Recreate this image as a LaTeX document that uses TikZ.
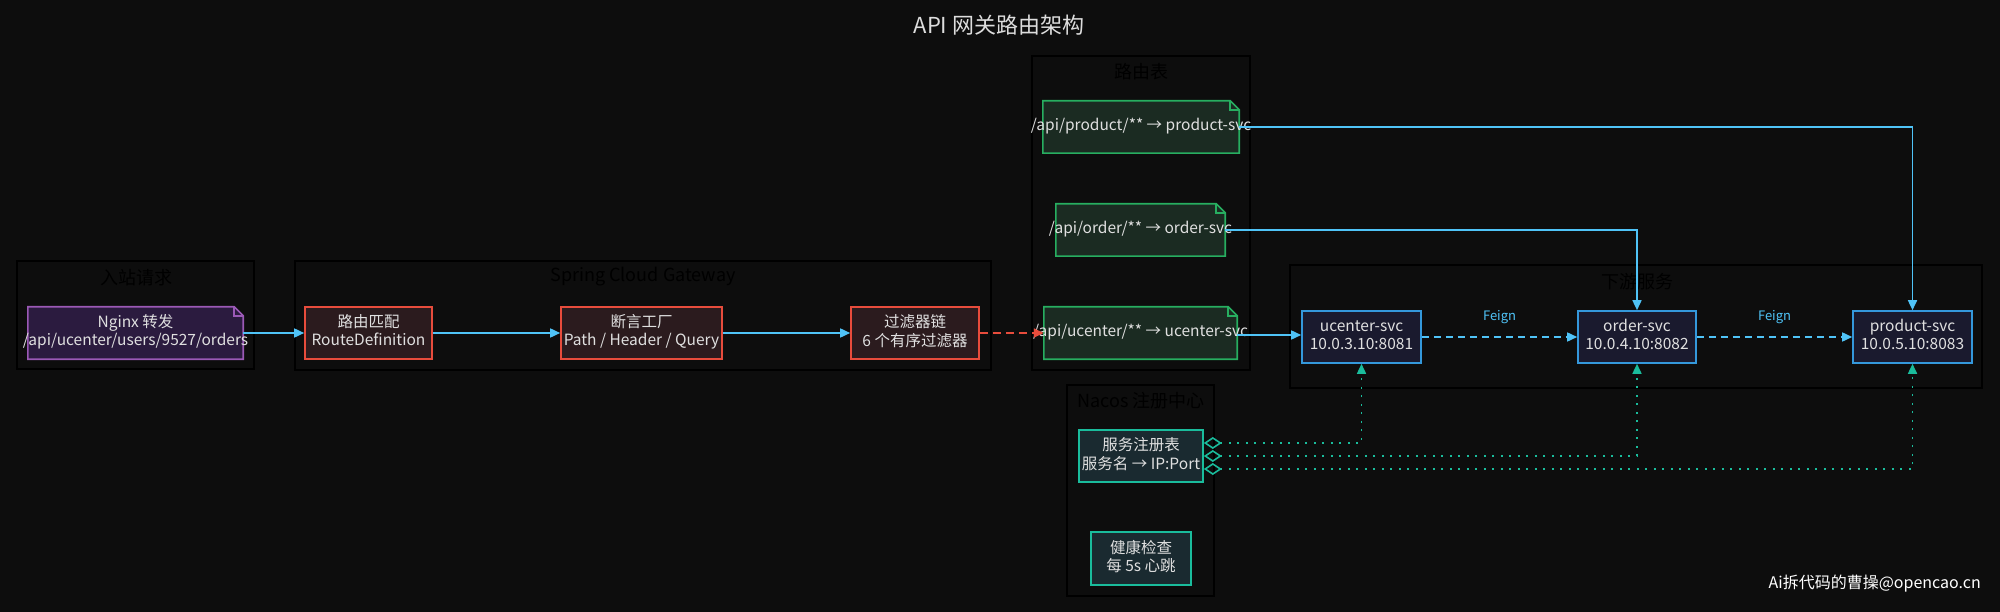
\documentclass[tikz,border=0pt]{standalone}
\usepackage{fontspec}
\setmainfont{Noto Sans CJK SC}
\setsansfont{Noto Sans CJK SC}
\usetikzlibrary{arrows.meta}
\definecolor{bg}{HTML}{0D0D0D}
\definecolor{txt}{HTML}{E0E0E0}
\definecolor{titlec}{HTML}{DDDDDD}
\definecolor{inline}{HTML}{9B59B6}
\definecolor{infill}{HTML}{2B1B3F}
\definecolor{gwline}{HTML}{E74C3C}
\definecolor{gwfill}{HTML}{2B1B1E}
\definecolor{rtline}{HTML}{27AE60}
\definecolor{rtfill}{HTML}{1B2B22}
\definecolor{svline}{HTML}{3498DB}
\definecolor{svfill}{HTML}{1A1A2E}
\definecolor{naline}{HTML}{1ABC9C}
\definecolor{nafill}{HTML}{1A2A30}
\definecolor{flowc}{HTML}{4FC3F7}
\newcommand\ctext[1]{\makebox[0pt]{\begin{tabular}{@{}c@{}}#1\end{tabular}}}
\newcommand\noteshape[3]{%
  \filldraw[line width=1.6pt, draw=#2, fill=#3, line join=miter]
    (#1.south west) -- (#1.north west) -- ([xshift=-9pt]#1.north east)
    -- ([yshift=-9pt]#1.north east) -- (#1.south east) -- cycle;
  \draw[line width=1.6pt, draw=#2]
    ([xshift=-9pt]#1.north east) -- ([xshift=-9pt,yshift=-9pt]#1.north east)
    -- ([yshift=-9pt]#1.north east);}
\begin{document}
\begin{tikzpicture}[x=1pt,y=-1pt,
  >={Triangle[length=10pt,width=9pt]},
  cluster/.style={draw=black, line width=1.5pt, fill=bg, inner sep=0pt},
  ctitle/.style={text=black, font=\fontsize{18}{22}\selectfont, inner sep=0pt},
  box/.style={line width=1.6pt, inner sep=0pt, text=txt, font=\fontsize{15.5}{18}\selectfont},
  gwbox/.style={box, draw=gwline, fill=gwfill},
  svcbox/.style={box, draw=svline, fill=svfill},
  nacbox/.style={box, draw=naline, fill=nafill},
  area/.style={inner sep=0pt},
  notetext/.style={text=txt, font=\fontsize{15.5}{18}\selectfont, inner sep=0pt},
  flow/.style={draw=flowc, line width=1.6pt, ->},
  redflow/.style={draw=gwline, line width=1.6pt, dash pattern=on 8pt off 5pt, ->},
  feign/.style={draw=flowc, line width=1.6pt, dash pattern=on 7pt off 5pt, ->},
  feignlabel/.style={text=flowc, font=\fontsize{13}{15}\selectfont, inner sep=0pt},
  reglink/.style={draw=naline, line width=1.6pt, dash pattern=on 2pt off 6.5pt,
    arrows={Diamond[open,length=18pt,width=12pt]-Triangle[length=10pt,width=9pt]}},
]
\useasboundingbox (0,0) rectangle (2000,612);
\fill[bg] (0,0) rectangle (2000,612);

\node[text=titlec, font=\fontsize{22}{26}\selectfont] (title) at (999,25) {API 网关路由架构};

% clusters
\node[cluster, minimum width=237pt, minimum height=108pt] (cin) at (135.5,315) {};
\node[cluster, minimum width=696pt, minimum height=109pt] (cgw) at (643,315.5) {};
\node[cluster, minimum width=218pt, minimum height=314pt] (crt) at (1141,213) {};
\node[cluster, minimum width=692pt, minimum height=123pt] (cds) at (1636,326.5) {};
\node[cluster, minimum width=147pt, minimum height=211pt] (cna) at (1140.5,490.5) {};
\node[ctitle] (tin) at (136,278) {入站请求};
\node[ctitle] (tgw) at (643,277) {Spring Cloud Gateway};
\node[ctitle] (trt) at (1141,72) {路由表};
\node[ctitle] (tds) at (1637,282) {下游服务};
\node[ctitle] (tna) at (1141,401) {Nacos 注册中心};

% notes
\node[area, minimum width=215pt, minimum height=52pt] (ng) at (135.5,333) {};
\noteshape{ng}{inline}{infill}
\node[notetext] (ngt) at (ng) {\ctext{Nginx 转发\\/api/ucenter/users/9527/orders}};

\node[area, minimum width=196pt, minimum height=52pt] (rp) at (1141,127) {};
\noteshape{rp}{rtline}{rtfill}
\node[notetext] (rpt) at (rp) {\ctext{/api/product/** → product-svc}};

\node[area, minimum width=169pt, minimum height=52pt] (ro) at (1140.5,230) {};
\noteshape{ro}{rtline}{rtfill}
\node[notetext] (rot) at (ro) {\ctext{/api/order/** → order-svc}};

\node[area, minimum width=193pt, minimum height=52pt] (ru) at (1140.5,333) {};
\noteshape{ru}{rtline}{rtfill}
\node[notetext] (rut) at (ru) {\ctext{/api/ucenter/** → ucenter-svc}};

% gateway boxes
\node[gwbox, minimum width=127pt, minimum height=52pt] (rd) at (368.5,333) {\ctext{路由匹配\\RouteDefinition}};
\node[gwbox, minimum width=161pt, minimum height=52pt] (pf) at (641.5,333) {\ctext{断言工厂\\Path / Header / Query}};
\node[gwbox, minimum width=128pt, minimum height=52pt] (fc) at (915,333) {\ctext{过滤器链\\6 个有序过滤器}};

% services
\node[svcbox, minimum width=119pt, minimum height=52pt] (us) at (1361.5,337) {\ctext{ucenter-svc\\10.0.3.10:8081}};
\node[svcbox, minimum width=118pt, minimum height=52pt] (os) at (1637,337) {\ctext{order-svc\\10.0.4.10:8082}};
\node[svcbox, minimum width=119pt, minimum height=52pt] (ps) at (1912.5,337) {\ctext{product-svc\\10.0.5.10:8083}};

% nacos
\node[nacbox, minimum width=124pt, minimum height=52pt] (reg) at (1141,456) {\ctext{服务注册表\\服务名 → IP:Port}};
\node[nacbox, minimum width=100pt, minimum height=53pt] (hc) at (1141,558.5) {\ctext{健康检查\\每 5s 心跳}};

% edges
\draw[flow] (ng.east) -- (rd.west);
\draw[flow] (rd.east) -- (pf.west);
\draw[flow] (pf.east) -- (fc.west);
\draw[redflow] (fc.east) -- (ru.west);
\draw[flow] (rp.east) -| (ps.north);
\draw[flow] (ro.east) -| (os.north);
\draw[flow] ([yshift=-2pt]ru.east) -- ([yshift=-2pt]ru.east -| us.west);
\draw[feign] (us.east) -- (os.west) node[feignlabel, midway, yshift=20pt] (f1) {Feign};
\draw[feign] (os.east) -- (ps.west) node[feignlabel, midway, yshift=20pt] (f2) {Feign};
\draw[reglink] ([yshift=13pt]reg.east) -| (us.south);
\draw[reglink] (reg.east) -| (os.south);
\draw[reglink] ([yshift=-13pt]reg.east) -| (ps.south);

\node[anchor=east, text=white, font=\fontsize{16}{19}\selectfont, inner sep=0pt] (wm) at (1981,584) {Ai拆代码的曹操@opencao.cn};
\end{tikzpicture}
\end{document}
